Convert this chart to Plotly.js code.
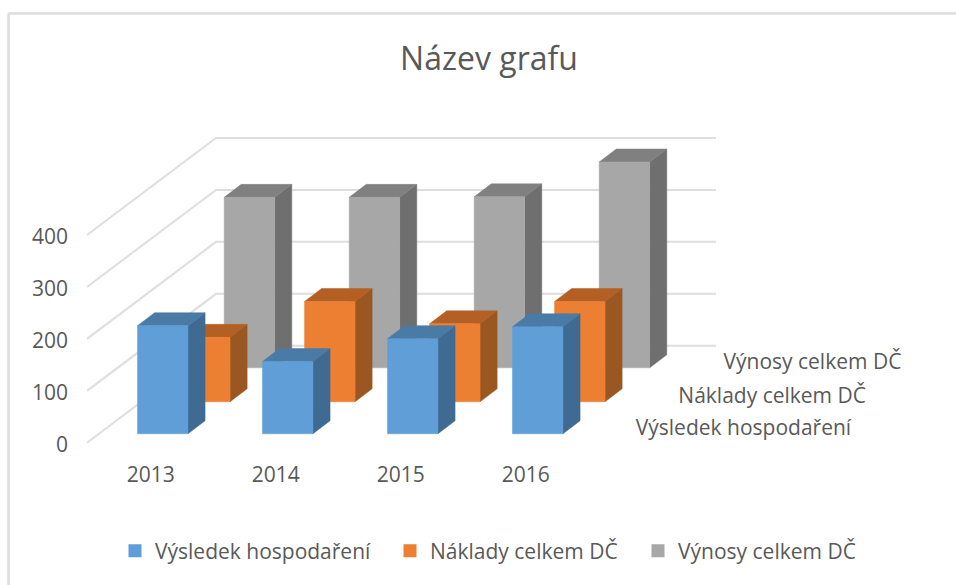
<!DOCTYPE html>
<html><head><meta charset="utf-8">
<script src="https://cdn.plot.ly/plotly-3.0.1.min.js"></script>
<style>html,body{margin:0;padding:0;background:#fff}</style></head>
<body><div id="chart" style="width:956px;height:585px"></div>
<script>
const years = ['2013','2014','2015','2016'];
const seriesNames = ['Výsledek hospodaření','Náklady celkem DČ','Výnosy celkem DČ'];
const vysledek = [208,139,183,206];
const naklady = [124,193,150,193];
const vynosy = [328,328,329,396];
const yTicks = [0,100,200,300,400];
const frontColors = ['#5f9ed7','#ed7f33','#a7a7a7'];
const sideColors = ['#3f6a92','#9a5722','#6f6f6f'];
const topColors = ['#4a7ba7','#b46025','#808080'];

const seriesValues = [vysledek,naklady,vynosy];
const depthCentres = [0.16,0.49,0.84];
const depthSize = 0.134, barWidth = 0.404, barCentre = 0.511;
const skewX = 129/125, barSkewX = 127.5/125, skewY = 97/0.5197;
const px = (c,d)=>c+d*skewX, bx = (c,d)=>c+d*barSkewX, py = (v,d)=>v+d*skewY;

function polys(list){
  const x=[],y=[];
  list.forEach(p=>{p.forEach(q=>{x.push(bx(q[0],q[2]));y.push(py(q[1],q[2]));});x.push(null);y.push(null);});
  return {x,y};
}
const traces=[];
// gridlines
const gx=[],gy=[];
yTicks.forEach(v=>{[[0,0],[0,1],[years.length,1]].forEach(q=>{gx.push(px(q[0],q[1]));gy.push(py(v,q[1]));});gx.push(null);gy.push(null);});
traces.push({x:gx,y:gy,mode:'lines',line:{color:'#dedede',width:2},showlegend:false,hoverinfo:'skip'});
// bars back to front
[2,1,0].forEach(s=>{
  const d0=depthCentres[s]-depthSize/2,d1=depthCentres[s]+depthSize/2;
  const front=[],side=[],top=[];
  seriesValues[s].forEach((v,i)=>{
    const a=i+barCentre-barWidth/2,b=i+barCentre+barWidth/2;
    front.push([[a,0,d0],[b,0,d0],[b,v,d0],[a,v,d0],[a,0,d0]]);
    side.push([[b,0,d0],[b,0,d1],[b,v,d1],[b,v,d0],[b,0,d0]]);
    top.push([[a,v,d0],[b,v,d0],[b,v,d1],[a,v,d1],[a,v,d0]]);
  });
  [[side,sideColors[s]],[top,topColors[s]],[front,frontColors[s]]].forEach(f=>{
    const p=polys(f[0]);
    traces.push({x:p.x,y:p.y,mode:'lines',fill:'toself',fillcolor:f[1],line:{color:f[1],width:0.5},showlegend:false,name:seriesNames[s],hoverinfo:'name'});
  });
});
// legend entries
const legendWidths = [230,203,190];
[0,1,2].forEach(s=>traces.push({x:[null],y:[null],mode:'markers',name:seriesNames[s],legendwidth:legendWidths[s],marker:{symbol:'square',size:13,color:frontColors[s]},showlegend:true}));
// depth axis labels
traces.push({x:depthCentres.map(d=>px(years.length+0.225,d)),y:depthCentres.map(d=>py(-5,d)),mode:'text',text:seriesNames,textposition:'middle right',textfont:{family:'Open Sans',size:21,color:'#595959'},showlegend:false,hoverinfo:'skip',cliponaxis:false});

const layout={
  width:956,height:585,paper_bgcolor:'#fff',plot_bgcolor:'#fff',
  margin:{l:87,r:36,t:130,b:137,pad:0},
  font:{family:'Open Sans',color:'#595959',size:21},
  title:{text:'Název grafu',font:{family:'Open Sans',size:32,color:'#595959'},x:489/956,xanchor:'center',y:1-59/585,yanchor:'middle',yref:'container'},
  xaxis:{range:[0,6.664],tickmode:'array',tickvals:years.map((_,i)=>i+0.51),ticktext:years,showgrid:false,zeroline:false,showline:false,ticks:'',ticklabelstandoff:12,tickfont:{size:21,color:'#595959'}},
  yaxis:{range:[-10,601.9],tickmode:'array',tickvals:yTicks.map(v=>v-3.5),ticktext:yTicks.map(String),showgrid:false,zeroline:false,showline:false,ticks:'',ticklabelstandoff:18,tickfont:{size:21,color:'#595959'}},
  legend:{orientation:'h',x:115/956,xanchor:'left',y:1-551/585,yanchor:'middle',xref:'container',yref:'container',font:{size:21,color:'#595959'},bgcolor:'rgba(0,0,0,0)',itemwidth:30},
  shapes:[
    {type:'line',xref:'paper',yref:'paper',x0:-78.5/833,x1:-78.5/833,y0:1+116.5/318,y1:-137/318,line:{color:'#dcdcdc',width:2.5}},
    {type:'line',xref:'paper',yref:'paper',x0:-78.5/833,x1:1+36/833,y0:1+116.5/318,y1:1+116.5/318,line:{color:'#dcdcdc',width:2.5}}
  ]
};
Plotly.newPlot('chart',traces,layout,{displayModeBar:false,staticPlot:true});
</script></body></html>
